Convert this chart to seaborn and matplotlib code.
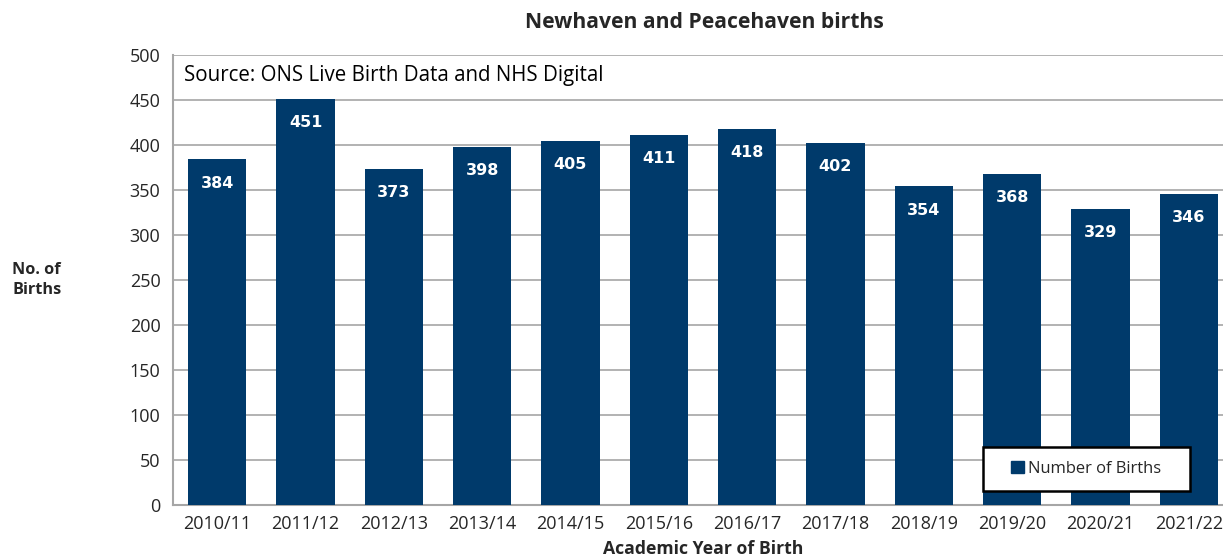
import pandas as pd
import matplotlib
matplotlib.use('Agg')
import matplotlib.pyplot as plt
import seaborn as sns
from matplotlib.patches import Patch, Rectangle
from matplotlib.ticker import FixedLocator

# Veriler
years = ['2010/11', '2011/12', '2012/13', '2013/14', '2014/15', '2015/16',
         '2016/17', '2017/18', '2018/19', '2019/20', '2020/21', '2021/22']
births = [384, 451, 373, 398, 405, 411, 418, 402, 354, 368, 329, 346]
y_ticks = list(range(0, 501, 50))

bar_color = '#003a6b'
grid_color = '#a6a6a6'

df = pd.DataFrame({'year': years, 'births': births})

sns.set_style('white')
plt.rcParams['font.family'] = ['Open Sans', 'DejaVu Sans']

fig = plt.figure(figsize=(12.23, 5.6), dpi=100)
ax = fig.add_axes([173 / 1223, 55 / 560, 1060 / 1223, 450 / 560])

sns.barplot(data=df, x='year', y='births', color=bar_color, width=0.66,
            saturation=1, linewidth=0, ax=ax, zorder=3)

# Değer etiketleri (çubuğun içinde, üst kısımda)
for i, v in enumerate(births):
    ax.annotate(str(v), xy=(i, v), xytext=(0, -17), textcoords='offset points',
                ha='center', va='center', color='white', fontsize=11.5,
                fontweight='bold', family='DejaVu Sans', zorder=4)

ax.set_ylim(0, 500)
ax.set_xlim(-0.5, len(years) - 0.5)
ax.set_yticks(y_ticks)
ax.yaxis.grid(True, color=grid_color, linewidth=1.2, zorder=0)
ax.set_axisbelow(True)

ax.tick_params(axis='y', length=5, width=1, color=grid_color, labelsize=13,
               labelcolor='#262626', pad=4)
ax.tick_params(axis='x', which='major', length=0, labelsize=13,
               labelcolor='#262626', pad=7)
ax.xaxis.set_minor_locator(FixedLocator([i - 0.5 for i in range(len(years) + 1)]))
ax.tick_params(axis='x', which='minor', length=5, width=1, color=grid_color)

for side in ['left', 'bottom']:
    ax.spines[side].set_color(grid_color)
    ax.spines[side].set_linewidth(1.5)
ax.spines['top'].set_visible(False)
ax.spines['right'].set_visible(False)

ax.set_xlabel('')
ax.set_ylabel('')

ax.text(0.01, 0.955, 'Source: ONS Live Birth Data and NHS Digital',
        transform=ax.transAxes, ha='left', va='center', fontsize=14.8,
        color='black')

# Lejant kutusu
box = (0.764, 0.031, 0.195, 0.098)
ax.add_patch(Rectangle((box[0], box[1]), box[2], box[3], transform=ax.transAxes,
                       facecolor='white', edgecolor='black', linewidth=1.8,
                       zorder=5))
leg = ax.legend(handles=[Patch(facecolor=bar_color, edgecolor=bar_color,
                               label='Number of Births')],
                loc='center', bbox_to_anchor=box, fontsize=11.9,
                frameon=False, handlelength=0.75, handleheight=0.75,
                handletextpad=0.25, borderpad=0)
leg.set_zorder(6)

fig.text(704 / 1223, 1 - 22 / 560, 'Newhaven and Peacehaven births',
         ha='center', va='center', fontsize=15.2, fontweight='bold')
fig.text(703 / 1223, 1 - 549 / 560, 'Academic Year of Birth',
         ha='center', va='center', fontsize=12.7, fontweight='bold')
fig.text(12 / 1223, 1 - 280 / 560, 'No. of\nBirths', ha='left', va='center',
         fontsize=11.7, fontweight='bold', linespacing=1.3)

fig.savefig('out.png', dpi=100)
